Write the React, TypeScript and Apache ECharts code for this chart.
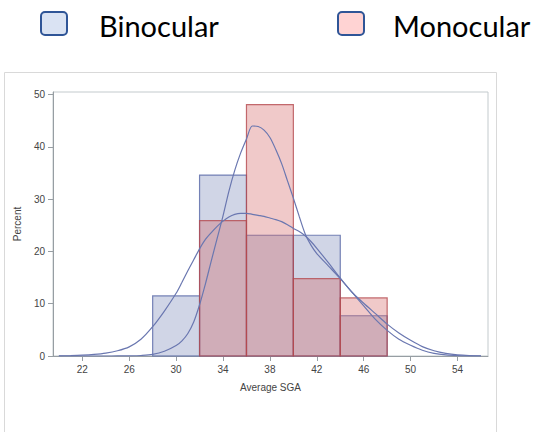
import React, { useEffect, useRef } from "react";
import * as echarts from "echarts";

// Histogram bins (left edges, width 4) and percentages per group
const binStarts = [28, 32, 36, 40, 44];
const binWidth = 4;
const binocularPct = [11.5, 34.6, 23.1, 23.1, 7.7];
const monocularPct = [0, 25.9, 48.1, 14.8, 11.1];

// Density curves, sampled on a shared grid of Average SGA values
const densityX = [
  20, 21, 22, 23, 24, 25, 26, 27, 28, 29, 30, 30.5, 31, 31.5, 32, 32.5, 33, 33.5, 34, 34.5, 35,
  35.5, 36, 36.5, 37, 37.5, 38, 38.5, 39, 39.5, 40, 40.5, 41, 41.5, 42, 43, 44, 45, 46, 47, 48,
  49, 50, 51, 52, 53, 54, 55, 56,
];
const binocularDensity = [
  0.03, 0.07, 0.15, 0.3, 0.55, 1.0, 1.75, 3.2, 5.6, 8.6, 12.0, 14.1, 16.3, 18.4, 20.5, 22.3, 23.6,
  24.8, 25.8, 26.6, 27.1, 27.3, 27.3, 27.1, 26.9, 26.7, 26.4, 26.1, 25.7, 25.1, 24.4, 23.8, 23.0,
  21.9, 20.6, 17.8, 14.9, 12.2, 10.1, 8.1, 6.1, 4.4, 3.0, 1.8, 1.0, 0.5, 0.22, 0.09, 0.04,
];
const monocularDensity = [
  0, 0, 0, 0, 0, 0.01, 0.03, 0.1, 0.3, 0.9, 2.0, 2.9, 4.3, 6.5, 9.8, 13.8, 18.2, 22.5, 26.8,
  31.5, 35.5, 38.8, 41.5, 44.0, 43.9, 43.2, 41.8, 39.5, 36.8, 33.5, 30.2, 26.7, 23.4, 21.2, 19.6,
  17.2, 14.8, 12.2, 9.6, 7.0, 4.9, 3.2, 2.05, 1.1, 0.5, 0.2, 0.07, 0.02, 0,
];

// Axis tick values
const xTicks = [22, 26, 30, 34, 38, 42, 46, 50, 54];
const yTicks = [0, 10, 20, 30, 40, 50];

const groupNames = ["Binocular", "Monocular"];

const tickFont = {
  fontFamily: "Liberation Sans, Arial, sans-serif",
  fontSize: 10,
  color: "#444444",
};

const legendFont = {
  fontFamily: "Lato, 'Open Sans', sans-serif",
  fontSize: 29,
  fill: "#000",
  verticalAlign: "middle",
};

function binSeries(name: string, pct: number[], fill: string, stroke: string, z: number) {
  const data = binStarts
    .map((s, i) => [s, s + binWidth, pct[i]])
    .filter((d) => d[2] > 0);
  return {
    type: "custom",
    name,
    z,
    data,
    encode: { x: [0, 1], y: 2 },
    renderItem: (_params: any, api: any) => {
      const topLeft = api.coord([api.value(0), api.value(2)]);
      const bottomRight = api.coord([api.value(1), 0]);
      return {
        type: "rect",
        shape: {
          x: topLeft[0],
          y: topLeft[1],
          width: bottomRight[0] - topLeft[0],
          height: bottomRight[1] - topLeft[1],
        },
        style: { fill, stroke, lineWidth: 1.2 },
      };
    },
  };
}

function densitySeries(name: string, values: number[]) {
  return {
    type: "line",
    name: name + " density",
    z: 5,
    data: densityX.map((x, i) => [x, values[i]]),
    showSymbol: false,
    smooth: 0.3,
    lineStyle: { color: "#6a77b0", width: 1.2 },
  };
}

export default function App() {
  const ref = useRef<HTMLDivElement>(null);

  useEffect(() => {
    document.body.style.margin = "0";
    if (!ref.current) return;
    const chart = echarts.init(ref.current, undefined, { renderer: "svg" });
    const axisGray = "#979ea3";

    chart.setOption({
      animation: false,
      grid: {
        left: 53,
        top: 92,
        right: 49,
        bottom: 76,
        show: true,
        borderColor: "#c3cacd",
        borderWidth: 1,
        outerBoundsMode: "none",
      },
      xAxis: {
        type: "value",
        min: 19.5,
        max: 56.6,
        name: "Average SGA",
        nameLocation: "middle",
        nameGap: 26,
        nameTextStyle: tickFont,
        axisLine: { show: true, onZero: false, lineStyle: { color: axisGray } },
        axisTick: { show: true, length: 5, customValues: xTicks, lineStyle: { color: axisGray } },
        axisLabel: { ...tickFont, margin: 8, customValues: xTicks },
        splitLine: { show: false },
      },
      yAxis: {
        type: "value",
        min: 0,
        max: 50.5,
        name: "Percent",
        nameLocation: "middle",
        nameGap: 31,
        nameRotate: 90,
        nameTextStyle: tickFont,
        axisLine: { show: true, lineStyle: { color: axisGray } },
        axisTick: { show: true, length: 5, customValues: yTicks, lineStyle: { color: axisGray } },
        axisLabel: { ...tickFont, margin: 8, customValues: yTicks },
        splitLine: { show: false },
      },
      graphic: [
        {
          type: "rect",
          z: -10,
          shape: { x: 4.5, y: 72.5, width: 492, height: 370 },
          style: { fill: "none", stroke: "#d9d9d9", lineWidth: 1 },
        },
        {
          type: "rect",
          shape: { x: 41, y: 12, width: 26, height: 23, r: 4 },
          style: { fill: "#dae3f3", stroke: "#2f5597", lineWidth: 2 },
        },
        {
          type: "text",
          x: 99,
          y: 25,
          style: { text: groupNames[0], ...legendFont },
        },
        {
          type: "rect",
          shape: { x: 338, y: 12, width: 26, height: 23, r: 4 },
          style: { fill: "#ffd3d3", stroke: "#2f5597", lineWidth: 2 },
        },
        {
          type: "text",
          x: 393,
          y: 25,
          style: { text: groupNames[1], ...legendFont },
        },
      ],
      series: [
        binSeries(groupNames[0], binocularPct, "rgba(111,126,179,0.33)", "rgba(95,110,170,0.85)", 2),
        binSeries(groupNames[1], monocularPct, "rgba(208,91,91,0.33)", "rgba(180,72,78,0.8)", 3),
        densitySeries(groupNames[0], binocularDensity),
        densitySeries(groupNames[1], monocularDensity),
      ],
    });

    return () => chart.dispose();
  }, []);

  return <div ref={ref} style={{ width: 537, height: 432 }} />;
}
